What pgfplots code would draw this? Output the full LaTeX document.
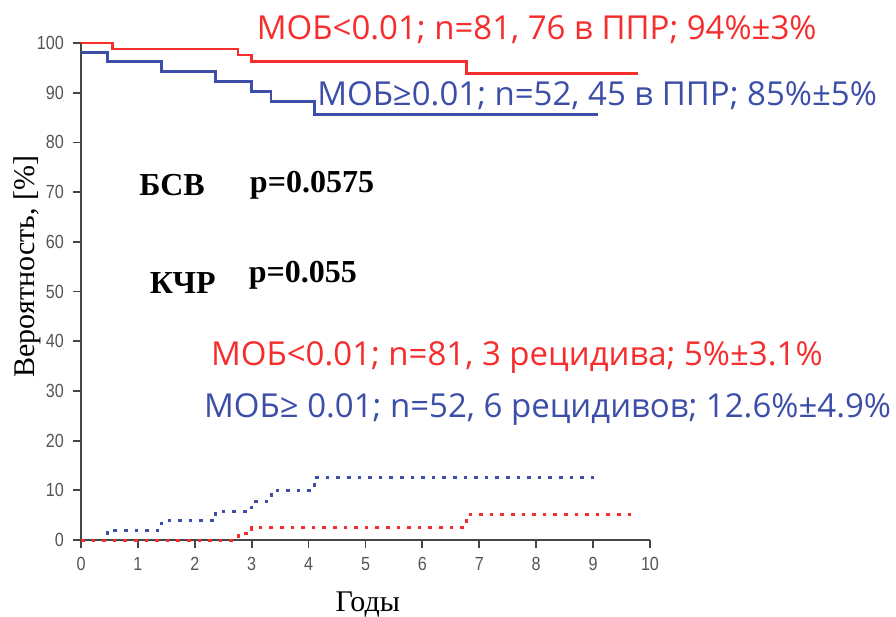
\documentclass[border=0pt]{standalone}
\usepackage{fontspec}
\setmainfont{Liberation Serif}
\newfontfamily\annot{Open Sans}
\newfontfamily\ticksf[FakeStretch=0.85]{Liberation Sans}
\usepackage{pgfplots}
\pgfplotsset{compat=1.18}

\definecolor{kmred}{RGB}{245,45,45}
\definecolor{kmblue}{RGB}{60,78,168}
\definecolor{axgray}{RGB}{70,70,70}
\definecolor{tickgray}{RGB}{85,85,85}

\begin{document}
\begin{tikzpicture}
\begin{axis}[
  at={(0,0)}, anchor=south west,
  scale only axis,
  width=284.5pt, height=248.5pt,
  xmin=0, xmax=10, ymin=0, ymax=100,
  axis lines*=left,
  axis line style={axgray, line width=0.9pt},
  xtick={0,1,...,10},
  ytick={0,10,...,100},
  tick align=outside,
  major tick length=4pt,
  tick style={axgray, line width=0.9pt},
  tick label style={font=\ticksf\fontsize{9.5}{11}\selectfont, text=tickgray},
  /pgf/number format/assume math mode=true,
  xticklabel style={yshift=-1pt},
  yticklabel style={xshift=-1pt},
  xlabel={Годы},
  ylabel={Вероятность, [\%]},
  xlabel style={font=\fontsize{15}{17}\selectfont, at={(axis description cs:0.504,0)}, anchor=center, yshift=-32.5pt},
  ylabel style={font=\fontsize{15}{17}\selectfont, at={(axis description cs:-0.095,0.55)}, anchor=center, rotate=0},
  clip=false,
]
% event-free survival
\addplot[const plot, kmred, line width=1.4pt] coordinates {
  (0,100) (0.56,98.8) (2.76,97.6) (3.0,96.3) (6.78,93.9) (9.79,93.9)
};
\addplot[const plot, kmblue, line width=1.4pt] coordinates {
  (0,98.1) (0.47,96.2) (1.42,94.2) (2.37,92.2) (3.0,90.3) (3.34,88.3) (4.1,85.6) (9.09,85.6)
};
% cumulative incidence of relapse
\addplot[const plot, kmblue, line width=1.5pt, dash pattern=on 1.8pt off 3.5pt] coordinates {
  (0,0) (0.47,2.0) (1.42,3.9) (2.37,5.8) (3.0,7.8) (3.34,9.9) (4.1,12.6) (9.09,12.6)
};
\addplot[const plot, kmred, line width=1.5pt, dash pattern=on 1.8pt off 3.5pt] coordinates {
  (0,0) (2.76,1.3) (3.0,2.6) (6.78,5.2) (9.79,5.2)
};

\node[kmred, font=\annot\fontsize{16.5}{19}\selectfont] at (axis cs:8.01,102.6) {МОБ<0.01; n=81, 76 в ППР; 94\%±3\%};
\node[kmblue, font=\annot\fontsize{16.5}{19}\selectfont] at (axis cs:9.07,89.5) {МОБ≥0.01; n=52, 45 в ППР; 85\%±5\%};
\node[kmred, font=\annot\fontsize{16.5}{19}\selectfont] at (axis cs:7.66,36.8) {МОБ<0.01; n=81, 3 рецидива; 5\%±3.1\%};
\node[kmblue, font=\annot\fontsize{16.5}{19}\selectfont] at (axis cs:8.2,26.2) {МОБ≥ 0.01; n=52, 6 рецидивов; 12.6\%±4.9\%};

\node[font=\bfseries\fontsize{16}{18}\selectfont] at (axis cs:1.6,71.4) {БСВ};
\node[font=\bfseries\fontsize{16}{18}\selectfont] at (axis cs:4.06,71.4) {p=0.0575};
\node[font=\bfseries\fontsize{16}{18}\selectfont] at (axis cs:1.79,51.7) {КЧР};
\node[font=\bfseries\fontsize{16}{18}\selectfont] at (axis cs:3.9,53.3) {p=0.055};
\end{axis}
\pgfresetboundingbox
\path[use as bounding box] (-40.5pt,-38.5pt) rectangle (407.5pt,270pt);
\end{tikzpicture}
\end{document}
